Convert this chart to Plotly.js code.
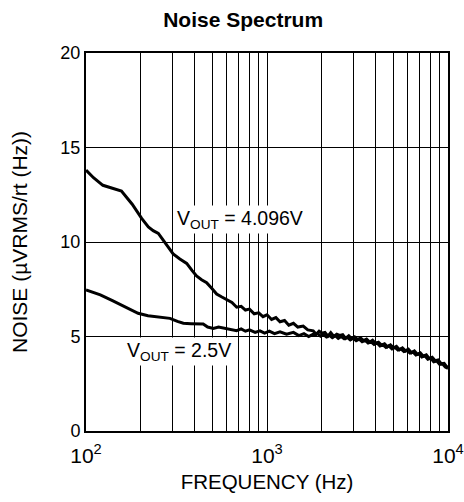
<!DOCTYPE html>
<html>
<head>
<meta charset="utf-8">
<script src="https://cdn.plot.ly/plotly-3.0.1.min.js"></script>
<style>html,body{margin:0;padding:0;background:#fff;}#chart{width:464px;height:502px;}</style>
</head>
<body>
<div id="chart"></div>
<script>
// VOUT = 4.096V
const freqHigh = [100,110,124,140,157,180,203,221,235,251,275,303,330,360,385,408,435,464,495,527,560,599,640,680,720,760,800,850,900,950,1000,1060,1120,1180,1250,1320,1400,1480,1585,1680,
  1800,1870,1940,2010,2090,2170,2250,2340,2430,2520,2620,2720,2830,2940,3050,3170,3290,3420,3550,3690,3830,3980,4130,4290,4460,4630,4810,5000,5190,5390,5600,5820,6040,6280,6520,6770,7030,7300,7590,7880,8180,8500,8830,9170,9520,9800,10000];
const noiseHigh = [13.8,13.4,13.0,12.85,12.7,12.0,11.25,10.8,10.6,10.46,9.9,9.37,9.1,8.87,8.5,8.2,8.0,7.85,7.55,7.25,7.1,6.93,6.8,6.55,6.6,6.4,6.45,6.2,6.25,6.05,6.15,5.9,6.0,5.78,5.85,5.6,5.7,5.5,5.55,5.35,
  5.3,5.12,5.28,5.18,5.22,5.02,5.2,5.0,5.12,5.06,5.1,4.9,5.04,4.88,4.98,4.84,4.92,4.78,4.86,4.7,4.8,4.64,4.7,4.55,4.62,4.46,4.56,4.4,4.48,4.3,4.4,4.24,4.33,4.14,4.24,4.06,4.14,3.96,4.03,3.84,3.9,3.72,3.76,3.56,3.58,3.42,3.38];

// VOUT = 2.5V
const freqLow = [100,120,140,165,194,220,250,291,320,345,380,420,444,470,505,540,598,640,679,720,760,800,860,914,970,1030,1100,1180,1282,1400,1500,1600,1700,1799,
  1830,1900,1975,2050,2130,2210,2295,2385,2475,2570,2670,2775,2885,2995,3110,3230,3355,3485,3620,3760,3905,4055,4210,4375,4545,4720,4905,5095,5290,5495,5710,5930,6160,6400,6645,6900,7165,7445,7735,8030,8340,8665,9000,9345,9660,10000];
const noiseLow = [7.46,7.2,6.9,6.55,6.23,6.1,6.05,5.96,5.8,5.7,5.68,5.66,5.66,5.5,5.43,5.5,5.43,5.35,5.31,5.4,5.28,5.35,5.22,5.3,5.18,5.28,5.15,5.25,5.12,5.22,5.05,5.15,5.0,5.12,
  5.08,5.16,5.02,5.1,4.98,5.06,4.94,5.04,4.9,5.0,4.88,4.96,4.82,4.92,4.78,4.86,4.72,4.8,4.66,4.72,4.58,4.66,4.5,4.56,4.42,4.5,4.34,4.42,4.28,4.34,4.2,4.26,4.12,4.18,4.02,4.08,3.92,3.98,3.8,3.86,3.66,3.7,3.52,3.54,3.38,3.32];

const xTickVals = [100,200,300,400,500,600,700,800,900,1000,2000,3000,4000,5000,6000,7000,8000,9000,10000];
const xTickText = ['10<sup>2</sup>','','','','','','','','','10<sup>3</sup>','','','','','','','','','10<sup>4</sup>'];
const yTickVals = [0,5,10,15,20];

const font = 'Liberation Sans, Arial, sans-serif';

const traces = [
  {x: freqHigh, y: noiseHigh, type: 'scatter', mode: 'lines', line: {color: '#000', width: 3}, hoverinfo: 'skip'},
  {x: freqLow, y: noiseLow, type: 'scatter', mode: 'lines', line: {color: '#000', width: 3}, hoverinfo: 'skip'}
];

const layout = {
  width: 464, height: 502,
  margin: {l: 86, r: 16, t: 53, b: 71},
  paper_bgcolor: '#fff', plot_bgcolor: '#fff',
  showlegend: false,
  font: {family: font, color: '#000', size: 18},
  title: {text: '<b>Noise Spectrum</b>', font: {family: font, size: 21, color: '#000'}, x: 0.524, xanchor: 'center', y: 0.96, yanchor: 'middle', xref: 'container', yref: 'container'},
  xaxis: {
    type: 'log', range: [2, 4],
    tickmode: 'array', tickvals: xTickVals, ticktext: xTickText,
    showgrid: true, gridcolor: '#000', gridwidth: 1,
    showline: true, linecolor: '#000', linewidth: 2, mirror: true,
    ticks: '', ticklen: 0, zeroline: false, ticklabelstandoff: 5,
    tickfont: {family: font, size: 21, color: '#000'},
    title: {text: 'FREQUENCY (Hz)', font: {family: font, size: 20.5, color: '#000'}, standoff: 8}
  },
  yaxis: {
    range: [0, 20], tickmode: 'array', tickvals: yTickVals,
    showgrid: true, gridcolor: '#000', gridwidth: 1,
    showline: true, linecolor: '#000', linewidth: 2, mirror: true,
    ticks: '', zeroline: false,
    tickfont: {family: font, size: 18, color: '#000'},
    title: {text: 'NOISE (µVRMS/rt (Hz))', font: {family: font, size: 21, color: '#000'}, standoff: 27}
  },
  annotations: [
    {x: Math.log10(310), y: 11.2, xref: 'x', yref: 'y', text: 'V<sub>OUT</sub> = 4.096V', showarrow: false, xanchor: 'left', yanchor: 'middle', bgcolor: '#fff', font: {family: font, size: 19.5, color: '#000'}},
    {x: Math.log10(164), y: 4.2, xref: 'x', yref: 'y', text: 'V<sub>OUT</sub> = 2.5V', showarrow: false, xanchor: 'left', yanchor: 'middle', bgcolor: '#fff', font: {family: font, size: 19.5, color: '#000'}}
  ]
};

Plotly.newPlot('chart', traces, layout, {staticPlot: true, displayModeBar: false});
</script>
</body>
</html>
